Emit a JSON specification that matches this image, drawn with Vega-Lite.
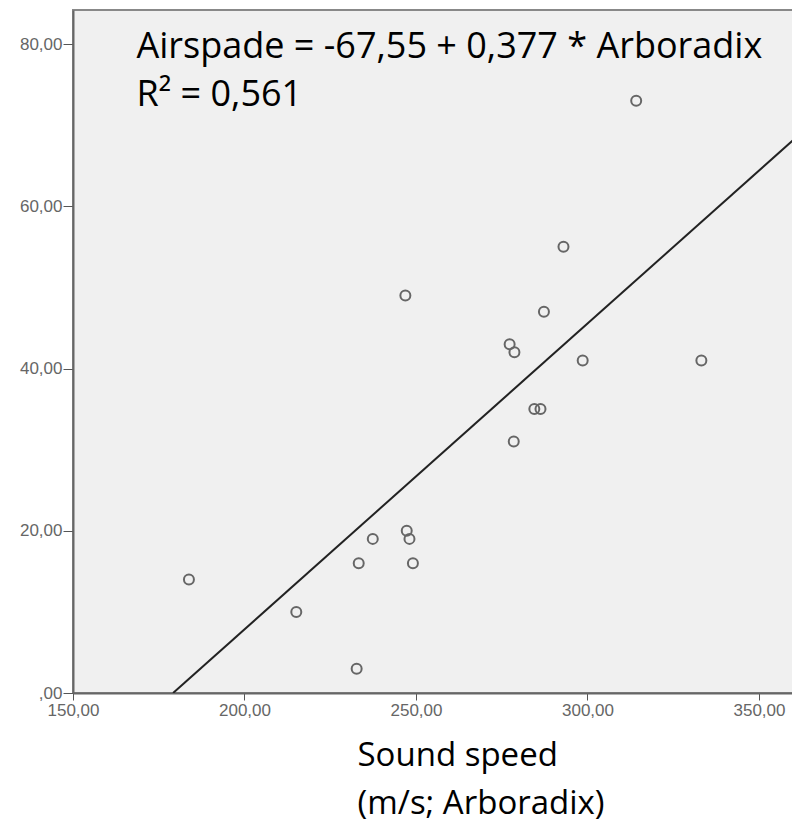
{
  "$schema": "https://vega.github.io/schema/vega-lite/v6.json",
  "width": 722,
  "height": 683,
  "autosize": {"type": "none"},
  "padding": {"left": 73, "top": 10, "right": 0, "bottom": 132},
  "background": "white",
  "config": {
    "view": {"fill": "#f0f0f0", "stroke": "#888888", "strokeWidth": 2},
    "axis": {"labelFontSize": 17, "labelFont": "Liberation Sans", "labelColor": "#666666", "labelFlush": false}
  },
  "datasets": {
    "points": [
      {"arb": 183.8, "air": 14},
      {"arb": 215.1, "air": 10},
      {"arb": 232.7, "air": 3},
      {"arb": 233.3, "air": 16},
      {"arb": 237.4, "air": 19},
      {"arb": 247.3, "air": 20},
      {"arb": 248.1, "air": 19},
      {"arb": 249.1, "air": 16},
      {"arb": 246.9, "air": 49},
      {"arb": 277.3, "air": 43},
      {"arb": 278.7, "air": 42},
      {"arb": 278.5, "air": 31},
      {"arb": 287.3, "air": 47},
      {"arb": 284.5, "air": 35},
      {"arb": 286.3, "air": 35},
      {"arb": 293.0, "air": 55},
      {"arb": 298.6, "air": 41},
      {"arb": 314.2, "air": 73},
      {"arb": 333.2, "air": 41}
    ],
    "fit": [
      {"arb": 179.18, "air": 0},
      {"arb": 362, "air": 68.92}
    ],
    "labels": [
      {"arb": 168.5, "air": 78.3, "text": "Airspade = -67,55 + 0,377 *  Arboradix"},
      {"arb": 168.5, "air": 72.4, "text": "R² = 0,561"}
    ]
  },
  "encoding": {
    "x": {
      "field": "arb",
      "type": "quantitative",
      "scale": {"domain": [150, 360.5], "nice": false, "zero": false},
      "axis": {
        "values": [150, 200, 250, 300, 350],
        "labelExpr": "datum.value == 0 ? ',00' : replace(format(datum.value, '.2f'), '.', ',')",
        "grid": false,
        "tickSize": 7,
        "tickColor": "#555555",
        "domainColor": "#666666",
        "domainWidth": 2,
        "labelFontSize": 17,
        "labelFlush": false,
        "labelPadding": 2,
        "title": ["Sound speed", "(m/s; Arboradix)"],
        "titleFont": "Open Sans",
        "titleFontSize": 33,
        "titleFontWeight": "normal",
        "titleColor": "#000000",
        "titleAlign": "left",
        "titleAnchor": "start",
        "titleX": 284,
        "titleY": 72,
        "titleBaseline": "alphabetic",
        "titleLineHeight": 48
      }
    },
    "y": {
      "field": "air",
      "type": "quantitative",
      "scale": {"domain": [0, 84.2], "nice": false, "zero": false},
      "axis": {
        "values": [0, 20, 40, 60, 80],
        "labelExpr": "datum.value == 0 ? ',00' : replace(format(datum.value, '.2f'), '.', ',')",
        "grid": false,
        "tickSize": 10,
        "tickColor": "#555555",
        "domainColor": "#666666",
        "domainWidth": 2,
        "labelFontSize": 17,
        "labelFlush": false,
        "labelPadding": 1,
        "title": null
      }
    }
  },
  "layer": [
    {
      "data": {"name": "fit"},
      "mark": {"type": "line", "color": "#222222", "strokeWidth": 2, "clip": true}
    },
    {
      "data": {"name": "points"},
      "mark": {"type": "point", "shape": "circle", "filled": false, "size": 100, "strokeWidth": 2, "color": "#666666", "opacity": 1}
    },
    {
      "data": {"name": "labels"},
      "mark": {"type": "text", "align": "left", "baseline": "alphabetic", "font": "Open Sans", "fontSize": 36, "color": "#000000"},
      "encoding": {"text": {"field": "text"}}
    }
  ]
}
